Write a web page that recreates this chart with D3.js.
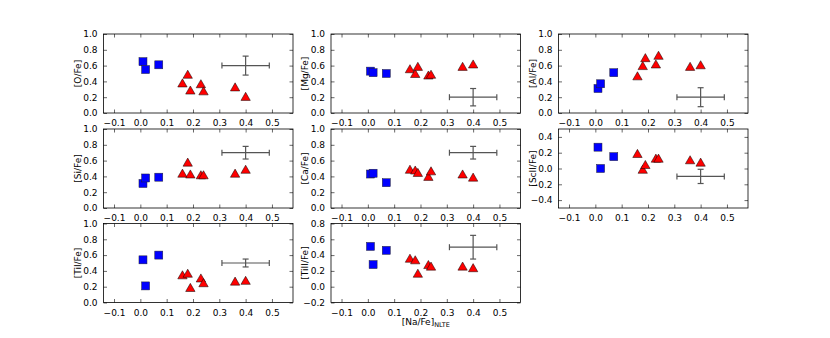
<!DOCTYPE html>
<html><head><meta charset="utf-8">
<script src="https://cdn.jsdelivr.net/npm/d3@7"></script>
<style>body{margin:0;background:#fff}svg{display:block}text{font-family:"DejaVu Sans",sans-serif}</style>
</head><body><svg id="c" width="830" height="338"></svg>
<script>
const naBlue = [0.01, 0.02, 0.07];
const naRed = [0.16, 0.18, 0.19, 0.23, 0.24, 0.36, 0.40];
const panels = ["[O/Fe]","[Mg/Fe]","[Al/Fe]","[Si/Fe]","[Ca/Fe]","[ScII/Fe]","[TiI/Fe]","[TiII/Fe]"];
const blueVals = [
  [0.65,0.55,0.61],[0.53,0.51,0.50],[0.31,0.37,0.51],[0.31,0.38,0.39],
  [0.43,0.44,0.32],[0.27,0.00,0.15],[0.54,0.21,0.60],[0.51,0.28,0.46]];
const redVals = [
  [0.37,0.48,0.28,0.36,0.27,0.32,0.20],
  [0.55,0.49,0.58,0.47,0.48,0.58,0.61],
  [0.46,0.59,0.69,0.61,0.72,0.58,0.60],
  [0.43,0.57,0.42,0.41,0.41,0.43,0.48],
  [0.48,0.47,0.44,0.39,0.46,0.42,0.38],
  [0.18,-0.02,0.04,0.12,0.12,0.10,0.07],
  [0.34,0.36,0.18,0.30,0.24,0.26,0.27],
  [0.35,0.33,0.16,0.27,0.25,0.25,0.23]];
const errX = [0.4,0.4,0.4,0.4,0.4,0.4,0.4,0.4];
const errY = [0.60,0.20,0.20,0.70,0.70,-0.10,0.50,0.50];
const errXerr = [0.09,0.09,0.09,0.09,0.09,0.09,0.09,0.09];
const errYerr = [0.12,0.11,0.12,0.08,0.08,0.09,0.05,0.15];
const yDomains = [[0,1],[0,1],[0,1],[0,1],[0,1],[-0.5,0.5],[0,1],[-0.2,0.8]];
const yTicks = [
  [0,0.2,0.4,0.6,0.8,1.0],[0,0.2,0.4,0.6,0.8,1.0],[0,0.2,0.4,0.6,0.8,1.0],
  [0,0.2,0.4,0.6,0.8,1.0],[0,0.2,0.4,0.6,0.8,1.0],[-0.4,-0.2,0,0.2,0.4],
  [0,0.2,0.4,0.6,0.8,1.0],[-0.2,0,0.2,0.4,0.6,0.8]];
const xTicks = [-0.1,0,0.1,0.2,0.3,0.4,0.5];
const xDomain = [-0.14, 0.58];

const svg = d3.select("#c");
const colsX = [103.5, 331, 558.5];
const rowsY = [34, 129, 223.5];
const W = 189.5, H = 79;
const fmt = d => (d < 0 ? "\u2212" : "") + Math.abs(d).toFixed(1);

panels.forEach((name, i) => {
  const col = i % 3, row = Math.floor(i / 3);
  const g = svg.append("g").attr("transform", `translate(${colsX[col]},${rowsY[row]})`);
  const x = d3.scaleLinear().domain(xDomain).range([0, W]);
  const y = d3.scaleLinear().domain(yDomains[i]).range([H, 0]);

  const styleAxis = (a) => {
    a.select(".domain").remove();
    a.selectAll(".tick line").attr("stroke", "#000").attr("stroke-width", 0.6);
    a.selectAll(".tick text").attr("font-size", 9).attr("fill", "#000").attr("font-family", "DejaVu Sans");
  };
  g.append("g").attr("transform", `translate(0,${H})`)
    .call(d3.axisBottom(x).tickValues(xTicks).tickSize(-3.5).tickPadding(7).tickFormat(fmt)).call(styleAxis);
  g.append("g").call(d3.axisTop(x).tickValues(xTicks).tickSize(-3.5).tickFormat("")).call(styleAxis);
  g.append("g").call(d3.axisLeft(y).tickValues(yTicks[i]).tickSize(-3.5).tickPadding(6).tickFormat(fmt)).call(styleAxis);
  g.append("g").attr("transform", `translate(${W},0)`)
    .call(d3.axisRight(y).tickValues(yTicks[i]).tickSize(-3.5).tickFormat("")).call(styleAxis);

  // error bar
  const ex = errX[i], ey = errY[i], dx = errXerr[i], dy = errYerr[i];
  const eg = g.append("g").attr("stroke", "#555").attr("stroke-width", 1.2);
  eg.append("line").attr("x1", x(ex - dx)).attr("x2", x(ex + dx)).attr("y1", y(ey)).attr("y2", y(ey));
  eg.append("line").attr("x1", x(ex)).attr("x2", x(ex)).attr("y1", y(ey - dy)).attr("y2", y(ey + dy));
  [[ex - dx, ey, "v"], [ex + dx, ey, "v"], [ex, ey - dy, "h"], [ex, ey + dy, "h"]].forEach(([a, b, o]) => {
    if (o === "v") eg.append("line").attr("x1", x(a)).attr("x2", x(a)).attr("y1", y(b) - 3).attr("y2", y(b) + 3);
    else eg.append("line").attr("x1", x(a) - 3).attr("x2", x(a) + 3).attr("y1", y(b)).attr("y2", y(b));
  });

  // blue squares
  g.selectAll("rect.b").data(naBlue.map((v, k) => [v, blueVals[i][k]])).enter().append("rect")
    .attr("x", d => x(d[0]) - 4).attr("y", d => y(d[1]) - 4).attr("width", 8).attr("height", 8)
    .attr("fill", "#0000ff").attr("stroke", "#223").attr("stroke-width", 0.5);
  // red triangles
  const tri = d3.symbol().type(d3.symbolTriangle).size(38);
  g.selectAll("path.r").data(naRed.map((v, k) => [v, redVals[i][k]])).enter().append("path")
    .attr("d", tri).attr("transform", d => `translate(${x(d[0])},${y(d[1]) + 0.5})`)
    .attr("fill", "#ff0000").attr("stroke", "#000").attr("stroke-width", 0.5);

  // frame
  g.append("rect").attr("width", W).attr("height", H).attr("fill", "none").attr("stroke", "#000").attr("stroke-width", 0.8);

  // y label
  g.append("text").attr("transform", `translate(${-23},${H / 2}) rotate(-90)`)
    .attr("text-anchor", "middle").attr("font-size", 9).text(name);

  if (i === 7) {
    const t = g.append("text").attr("x", W / 2).attr("y", H + 22).attr("text-anchor", "middle").attr("font-size", 9);
    t.append("tspan").text("[Na/Fe]");
    t.append("tspan").attr("font-size", 6.5).attr("dy", 2).text("NLTE");
  }
});
</script></body></html>
